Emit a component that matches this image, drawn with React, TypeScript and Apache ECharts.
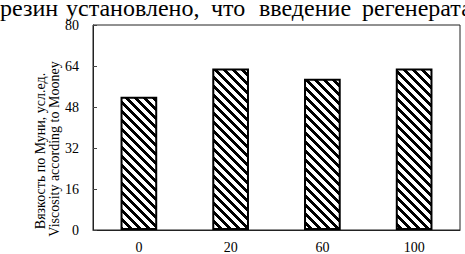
import React, { useEffect, useRef } from "react";
import * as echarts from "echarts";

const categories = ["0", "20", "60", "100"];
const viscosity = [52, 63, 59, 63];
const yTicks = { min: 0, max: 80, interval: 16 };
const headerWords = ["резин", "установлено,", "что", "введение", "регенерата"];
const headerX = [0, 66, 211, 259, 362];
const yNameLines = ["Вязкость по Муни, усл.ед.", "Viscosity according to Mooney"];

const SERIF = "'Liberation Serif', 'Times New Roman', serif";

function makeStripe(): HTMLCanvasElement {
  const size = 9;
  const c = document.createElement("canvas");
  c.width = size;
  c.height = size;
  const ctx = c.getContext("2d")!;
  ctx.fillStyle = "#fff";
  ctx.fillRect(0, 0, size, size);
  ctx.fillStyle = "#000";
  for (let y = 0; y < size; y++) {
    for (let x = 0; x < size; x++) {
      const d = (((x - y) % size) + size) % size;
      if (d < 4) ctx.fillRect(x, y, 1, 1);
    }
  }
  return c;
}

export default function App() {
  const ref = useRef<HTMLDivElement>(null);
  useEffect(() => {
    if (!ref.current) return;
    const chart = echarts.init(ref.current, undefined, { renderer: "svg" });
    const pattern = makeStripe();
    chart.setOption({
      animation: false,
      backgroundColor: "#fff",
      grid: {
        left: 93,
        top: 25,
        right: 5,
        bottom: 24,
        show: true,
        borderColor: "#222",
        borderWidth: 1,
        backgroundColor: "transparent",
      },
      xAxis: {
        type: "category",
        data: categories,
        axisLine: { lineStyle: { color: "#222", width: 1 } },
        axisTick: { inside: true, length: 5, lineStyle: { color: "#444" } },
        axisLabel: { color: "#000", fontFamily: SERIF, fontSize: 14, margin: 10 },
      },
      yAxis: {
        type: "value",
        min: yTicks.min,
        max: yTicks.max,
        interval: yTicks.interval,
        splitLine: { show: false },
        axisLine: { show: true, lineStyle: { color: "#222", width: 1 } },
        axisTick: { show: true, inside: true, length: 4, lineStyle: { color: "#444" } },
        axisLabel: { color: "#000", fontFamily: SERIF, fontSize: 14, margin: 14 },
      },
      series: [
        {
          type: "bar",
          data: viscosity,
          barWidth: "40%",
          itemStyle: {
            color: { image: pattern, repeat: "repeat" },
            borderColor: "#000",
            borderWidth: 2,
          },
        },
      ],
      graphic: [
        ...headerWords.map((w, i) => ({
          type: "text",
          x: headerX[i],
          y: 0,
          style: {
            text: w,
            fontSize: 24,
            lineHeight: 16,
            fontFamily: SERIF,
            fill: "#000",
            textAlign: "left",
            textVerticalAlign: "top",
          },
        })),
        {
          type: "text",
          x: 40,
          y: 151,
          rotation: Math.PI / 2,
          style: {
            text: yNameLines[0],
            fontSize: 14,
            fontFamily: SERIF,
            fill: "#000",
            textAlign: "center",
            textVerticalAlign: "middle",
          },
        },
        {
          type: "text",
          x: 54,
          y: 149,
          rotation: Math.PI / 2,
          style: {
            text: yNameLines[1],
            fontSize: 14,
            fontFamily: SERIF,
            fill: "#000",
            textAlign: "center",
            textVerticalAlign: "middle",
          },
        },
      ],
    });
    return () => chart.dispose();
  }, []);
  return <div ref={ref} style={{ width: 465, height: 254, position: "absolute", left: 0, top: 0 }} />;
}
